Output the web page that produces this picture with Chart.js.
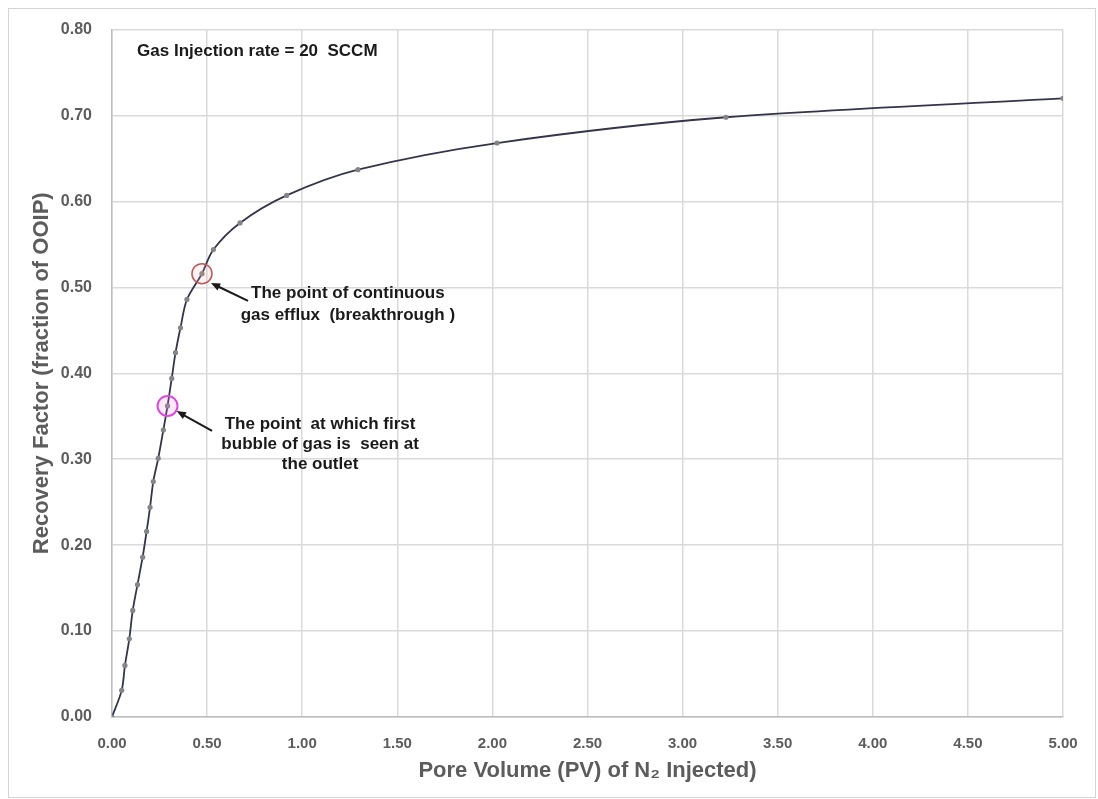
<!DOCTYPE html>
<html>
<head>
<meta charset="utf-8">
<title>Recovery Factor vs Pore Volume of N2 Injected</title>
<script src="https://cdn.jsdelivr.net/npm/chart.js@4/dist/chart.umd.min.js"></script>
<style>
  html, body { margin: 0; padding: 0; background: #ffffff; }
  canvas { display: block; }
</style>
</head>
<body>
<canvas id="chart" width="1098" height="799"></canvas>
<script>
// Pore volumes of N2 injected (PV) and the matching oil recovery (fraction of OOIP)
const pvInjected = [0, 0.051, 0.068, 0.091, 0.109, 0.134, 0.161, 0.182, 0.200, 0.217,
                    0.243, 0.270, 0.292, 0.314, 0.334, 0.360, 0.394, 0.473, 0.533, 0.673,
                    0.918, 1.293, 2.024, 3.228, 5.000];
const recoveryFactor = [0, 0.031, 0.060, 0.091, 0.124, 0.154, 0.186, 0.216, 0.244, 0.274,
                        0.301, 0.334, 0.362, 0.394, 0.424, 0.453, 0.486, 0.516, 0.544, 0.575,
                        0.607, 0.637, 0.668, 0.698, 0.720];

// Axis tick labels
const xTicks = ['0.00', '0.50', '1.00', '1.50', '2.00', '2.50', '3.00', '3.50', '4.00', '4.50', '5.00'];
const yTicks = ['0.00', '0.10', '0.20', '0.30', '0.40', '0.50', '0.60', '0.70', '0.80'];

// Marked events on the curve
const firstBubble = { x: 0.292, y: 0.362 };
const breakthrough = { x: 0.473, y: 0.516 };

const FONT = '"Liberation Sans", Arial, sans-serif';
const AXIS_GREY = '#5c5c5c';

const points = pvInjected.map((x, i) => ({ x, y: recoveryFactor[i] }));

// Frame around the whole figure
const framePlugin = {
  id: 'frame',
  beforeDraw(chart) {
    const ctx = chart.ctx;
    ctx.save();
    ctx.fillStyle = '#ffffff';
    ctx.fillRect(0, 0, chart.width, chart.height);
    ctx.strokeStyle = '#d4d4d4';
    ctx.lineWidth = 1;
    ctx.strokeRect(8.5, 8.5, chart.width - 11, chart.height - 10);
    ctx.restore();
  }
};

function arrow(ctx, x0, y0, x1, y1) {
  const ang = Math.atan2(y1 - y0, x1 - x0);
  const head = 10;
  ctx.beginPath();
  ctx.moveTo(x0, y0);
  ctx.lineTo(x1 - Math.cos(ang) * head * 0.8, y1 - Math.sin(ang) * head * 0.8);
  ctx.stroke();
  ctx.beginPath();
  ctx.moveTo(x1, y1);
  ctx.lineTo(x1 - head * Math.cos(ang - 0.4), y1 - head * Math.sin(ang - 0.4));
  ctx.lineTo(x1 - head * Math.cos(ang + 0.4), y1 - head * Math.sin(ang + 0.4));
  ctx.closePath();
  ctx.fill();
}

// Notes, circles and arrows placed through the chart scales
const notesPlugin = {
  id: 'notes',
  afterDatasetsDraw(chart) {
    const ctx = chart.ctx;
    const sx = chart.scales.x, sy = chart.scales.y;
    const px = v => sx.getPixelForValue(v);
    const py = v => sy.getPixelForValue(v);
    ctx.save();

    // circles around the two events
    ctx.beginPath();
    ctx.arc(px(firstBubble.x), py(firstBubble.y), 10, 0, Math.PI * 2);
    ctx.fillStyle = 'rgba(235, 130, 235, 0.18)';
    ctx.fill();
    ctx.strokeStyle = '#d64fd6';
    ctx.lineWidth = 2;
    ctx.stroke();

    ctx.beginPath();
    ctx.arc(px(breakthrough.x), py(breakthrough.y), 10, 0, Math.PI * 2);
    ctx.fillStyle = 'rgba(240, 170, 170, 0.15)';
    ctx.fill();
    ctx.strokeStyle = '#b85a5a';
    ctx.lineWidth = 1.5;
    ctx.stroke();

    // arrows
    ctx.strokeStyle = '#1a1a1a';
    ctx.fillStyle = '#1a1a1a';
    ctx.lineWidth = 2;
    arrow(ctx, px(0.715), py(0.4844), px(0.52), py(0.505));
    arrow(ctx, px(0.526), py(0.333), px(0.34), py(0.356));

    // texts
    ctx.fillStyle = '#1a1a1a';
    ctx.font = 'bold 17px ' + FONT;
    ctx.textBaseline = 'middle';
    ctx.textAlign = 'left';
    ctx.fillText('Gas Injection rate = 20  SCCM', px(0.132), py(0.7746));

    ctx.textAlign = 'center';
    ctx.fillText('The point of continuous', px(1.24), py(0.4936));
    ctx.fillText('gas efflux  (breakthrough )', px(1.24), py(0.467));

    ctx.fillText('The point  at which first', px(1.094), py(0.341));
    ctx.fillText('bubble of gas is  seen at', px(1.094), py(0.3168));
    ctx.fillText('the outlet', px(1.094), py(0.2936));
    ctx.restore();
  }
};

new Chart(document.getElementById('chart'), {
  type: 'scatter',
  data: {
    datasets: [{
      data: points,
      showLine: true,
      borderColor: '#34344a',
      borderWidth: 1.8,
      tension: 0.3,
      pointRadius: 2.6,
      pointBackgroundColor: '#858585',
      pointBorderColor: '#858585',
      pointBorderWidth: 0
    }]
  },
  options: {
    responsive: false,
    animation: false,
    devicePixelRatio: 1,
    layout: { padding: { left: 12, top: 24, right: 35, bottom: 12 } },
    plugins: {
      legend: { display: false },
      tooltip: { enabled: false }
    },
    scales: {
      x: {
        type: 'linear',
        min: 0,
        max: 5,
        afterFit(scale) { scale.height = 70; },
        afterBuildTicks(scale) {
          scale.ticks = xTicks.map(t => ({ value: parseFloat(t) }));
        },
        ticks: {
          padding: 18,
          color: AXIS_GREY,
          font: { family: FONT, size: 15, weight: 'bold' },
          callback: v => xTicks.find(t => parseFloat(t) === v) || ''
        },
        grid: { color: '#dadada', lineWidth: 1.5, drawTicks: false },
        border: { color: '#bdbdbd', width: 1.5 },
        title: {
          display: true,
          text: 'Pore Volume (PV) of N\u2082 Injected)',
          color: AXIS_GREY,
          font: { family: FONT, size: 22, weight: 'bold' },
          padding: { top: 0, bottom: 3 }
        }
      },
      y: {
        type: 'linear',
        min: 0,
        max: 0.8,
        afterFit(scale) { scale.width = 100; },
        afterBuildTicks(scale) {
          scale.ticks = yTicks.map(t => ({ value: parseFloat(t) }));
        },
        ticks: {
          padding: 20,
          color: AXIS_GREY,
          font: { family: FONT, size: 16, weight: 'bold' },
          callback: v => yTicks.find(t => Math.abs(parseFloat(t) - v) < 1e-9) || ''
        },
        grid: { color: '#dadada', lineWidth: 1.5, drawTicks: false },
        border: { color: '#bdbdbd', width: 1.5 },
        title: {
          display: true,
          text: 'Recovery Factor (fraction of OOIP)',
          color: AXIS_GREY,
          font: { family: FONT, size: 22, weight: 'bold' },
          padding: { top: 17, bottom: 0 }
        }
      }
    }
  },
  plugins: [framePlugin, notesPlugin]
});
</script>
</body>
</html>
